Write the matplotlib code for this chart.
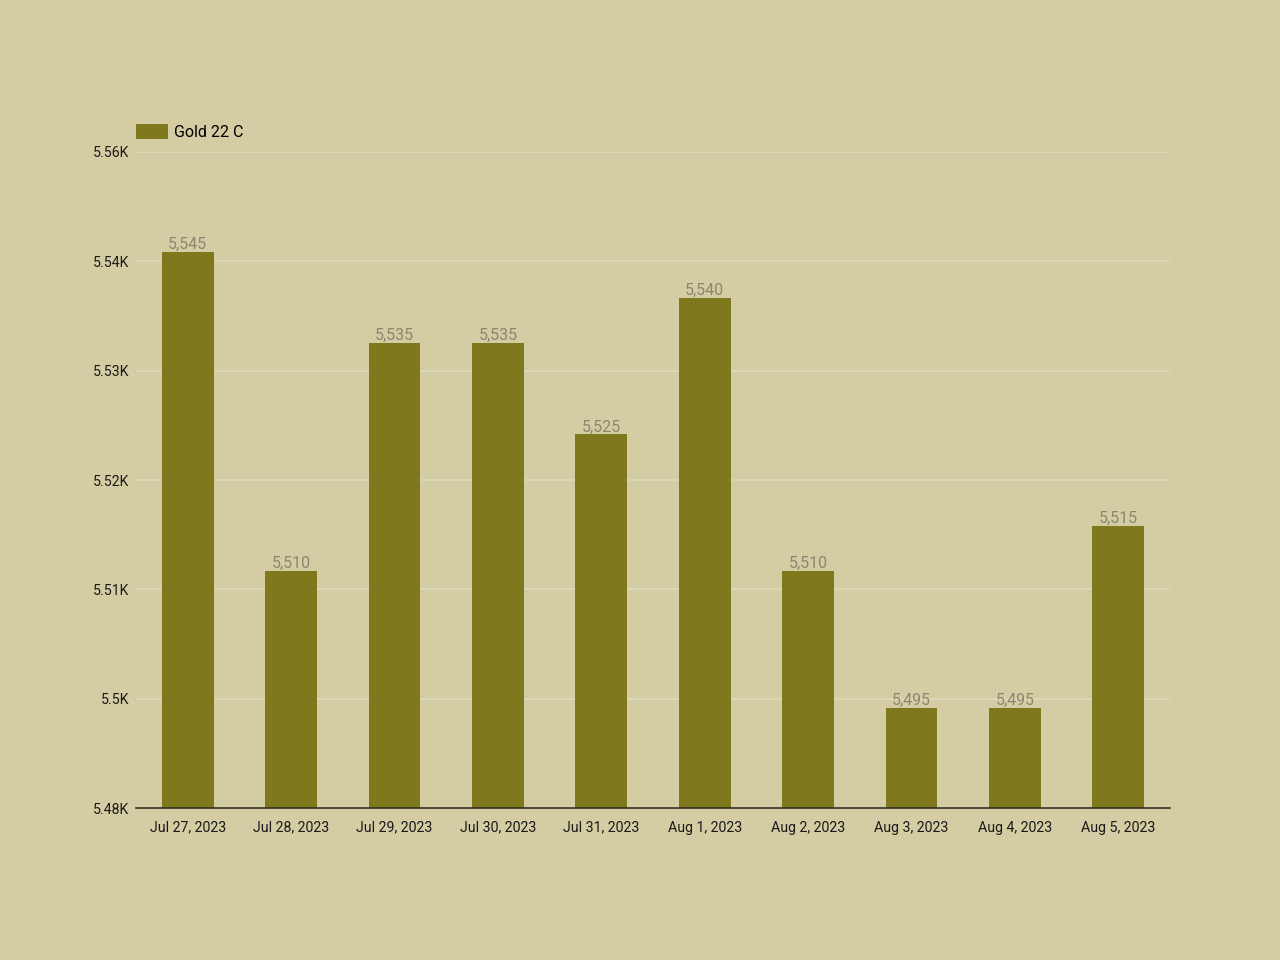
import matplotlib.pyplot as plt
import numpy as np

dates = ['Jul 27, 2023', 'Jul 28, 2023', 'Jul 29, 2023', 'Jul 30, 2023', 'Jul 31, 2023',
         'Aug 1, 2023', 'Aug 2, 2023', 'Aug 3, 2023', 'Aug 4, 2023', 'Aug 5, 2023']
gold_22c = [5545, 5510, 5535, 5535, 5525, 5540, 5510, 5495, 5495, 5515]
y_ticks = [5484, 5496, 5508, 5520, 5532, 5544, 5556]
y_tick_labels = ['5.48K', '5.5K', '5.51K', '5.52K', '5.53K', '5.54K', '5.56K']

plt.rcParams['font.family'] = ['Roboto', 'DejaVu Sans']

bg = '#d4cca2'
bar_col = '#80781d'

fig = plt.figure(figsize=(12.8, 9.6), dpi=100, facecolor=bg)
ax = fig.add_axes([0.10625, 0.1583, 0.8078, 0.6834])
ax.set_facecolor(bg)

x = np.arange(len(dates))
bars = ax.bar(x, gold_22c, width=0.5, color=bar_col, label='Gold 22 C', zorder=3)
ax.bar_label(bars, labels=[f'{v:,}' for v in gold_22c], padding=0,
             fontsize=11.5, color='#8c8670')

ax.set_xlim(-0.5, len(dates) - 0.5)
ax.set_ylim(y_ticks[0], y_ticks[-1])
ax.set_yticks(y_ticks)
ax.set_yticklabels(y_tick_labels)
ax.set_xticks(x)
ax.set_xticklabels(dates)
ax.tick_params(axis='both', length=0, labelsize=10.2, colors='#1a1a1a')
ax.tick_params(axis='y', pad=5)
ax.tick_params(axis='x', pad=9)

ax.grid(axis='y', color='#dedabf', linewidth=1.1, zorder=0)
for s in ['top', 'right', 'left']:
    ax.spines[s].set_visible(False)
ax.spines['bottom'].set_color('#333322')
ax.spines['bottom'].set_linewidth(1.2)
ax.spines['bottom'].set_zorder(4)

ax.legend(loc='lower left', bbox_to_anchor=(0, 1.018), frameon=False, borderaxespad=0,
          fontsize=11.5, handlelength=2.0, handleheight=1.1, handletextpad=0.4,
          borderpad=0)

plt.savefig('out.png', dpi=100, facecolor=bg)
